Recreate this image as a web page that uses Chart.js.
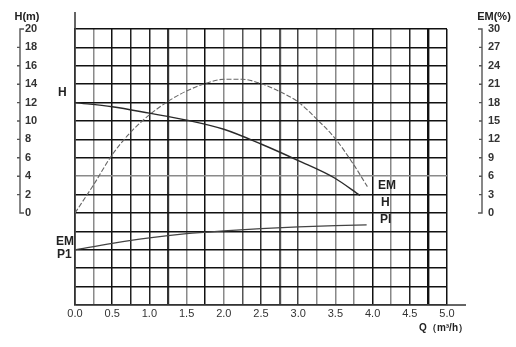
<!DOCTYPE html>
<html>
<head>
<meta charset="utf-8">
<script src="https://cdn.jsdelivr.net/npm/chart.js@4"></script>
<style>
  html, body { margin: 0; padding: 0; background: #fff; }
  canvas { display: block; }
</style>
</head>
<body>
<canvas id="chart" width="516" height="347"></canvas>
<script>
// head curve H (m) vs flow Q (m3/h)
const qHead = [0, 0.5, 1.0, 1.5, 2.0, 2.5, 3.0, 3.5, 3.83];
const headValues = [12, 11.55, 10.85, 10.1, 9.1, 7.5, 5.7, 3.75, 1.9];

// efficiency EM (%)
const qEff = [0, 0.25, 0.5, 0.75, 1.0, 1.25, 1.5, 1.75, 2.0, 2.25, 2.5, 2.75, 3.0, 3.25, 3.5, 3.75, 3.93];
const effValues = [0, 4.6, 9.5, 13.2, 16.0, 18.2, 19.9, 21.1, 21.8, 21.8, 21.1, 19.8, 18.1, 15.3, 12.1, 7.8, 4.3];

// power P1 (no scale printed, hidden axis)
const qPower = [0, 0.5, 1.0, 1.5, 2.0, 2.5, 3.0, 3.5, 3.92];
const powerValues = [60, 67, 73, 77.5, 80.5, 83, 85, 86.3, 87];

const xTickLabels = ["0.0", "0.5", "1.0", "1.5", "2.0", "2.5", "3.0", "3.5", "4.0", "4.5", "5.0"];

const FONT = "'Liberation Sans', Arial, sans-serif";

const toPoints = (xs, ys) => xs.map((x, i) => ({ x: x, y: ys[i] }));

// scanned grid: some lines print grey, some heavier
const xLineShade = ["#111", "#8a8a8a", "#111", "#222", "#222", "#333", "#8a8a8a", "#111", "#8a8a8a", "#555",
  "#333", "#555", "#444", "#8a8a8a", "#888", "#888", "#111", "#888", "#222", "#111", "#111"];
const xLineWidth = [1.5, 1.5, 1.5, 1.5, 1.5, 2.2, 1.5, 1.5, 1.5, 1.5, 1.5, 2.2, 1.5, 1.5, 1.5, 1.5, 1.5, 1.5, 1.5, 2.4, 1.5];

const decorations = {
  id: "decorations",
  afterDraw(chart) {
    const { ctx, chartArea, scales } = chart;
    const yH = scales.y, yE = scales.y2;
    ctx.save();

    // axis line extensions
    ctx.strokeStyle = "#333";
    ctx.lineWidth = 1.5;
    ctx.beginPath();
    ctx.moveTo(chartArea.left, chartArea.top);
    ctx.lineTo(chartArea.left, 12);
    ctx.moveTo(chartArea.right, chartArea.bottom);
    ctx.lineTo(466, chartArea.bottom);
    ctx.stroke();

    // left bracket for H(m)
    const top = yH.getPixelForValue(20), zero = yH.getPixelForValue(0);
    ctx.strokeStyle = "#555";
    ctx.lineWidth = 1.4;
    ctx.beginPath();
    ctx.moveTo(24, top); ctx.lineTo(20, top); ctx.lineTo(20, zero); ctx.lineTo(24, zero);
    for (let v = 2; v < 20; v += 2) {
      const py = yH.getPixelForValue(v);
      ctx.moveTo(17, py); ctx.lineTo(20, py);
    }
    // right bracket for EM(%)
    const rTop = yE.getPixelForValue(30), rZero = yE.getPixelForValue(0);
    ctx.moveTo(478, rTop); ctx.lineTo(482, rTop); ctx.lineTo(482, rZero); ctx.lineTo(478, rZero);
    for (let v = 3; v < 30; v += 3) {
      const py = yE.getPixelForValue(v);
      ctx.moveTo(479, py); ctx.lineTo(482, py);
    }
    ctx.stroke();

    ctx.fillStyle = "#222";
    ctx.font = "bold 11px " + FONT;
    ctx.textBaseline = "middle";
    ctx.textAlign = "center";
    ctx.fillText("H(m)", 27, 17);
    ctx.fillText("EM(%)", 494, 17);

    // curve names
    ctx.font = "bold 12px " + FONT;
    ctx.textAlign = "left";
    ctx.fillText("H", 58, 93);
    ctx.fillText("EM", 56, 242);
    ctx.fillText("P1", 57, 255);
    ctx.fillText("EM", 378, 186);
    ctx.fillText("H", 381, 203);
    ctx.fillText("PI", 380, 220);

    ctx.font = "bold 10px " + FONT;
    ctx.textAlign = "right";
    ctx.fillText("Q（m³/h）", 468, 328);
    ctx.restore();
  }
};

new Chart(document.getElementById("chart").getContext("2d"), {
  type: "line",
  data: {
    datasets: [
      {
        label: "H",
        data: toPoints(qHead, headValues),
        yAxisID: "y",
        borderColor: "#2a2a2a",
        borderWidth: 1.4,
        pointRadius: 0,
        cubicInterpolationMode: "monotone",
        fill: false
      },
      {
        label: "EM",
        data: toPoints(qEff, effValues),
        yAxisID: "y2",
        borderColor: "#666",
        borderWidth: 1.1,
        borderDash: [5, 2],
        pointRadius: 0,
        cubicInterpolationMode: "monotone",
        fill: false
      },
      {
        label: "P1",
        data: toPoints(qPower, powerValues),
        yAxisID: "yP",
        borderColor: "#444",
        borderWidth: 1.3,
        pointRadius: 0,
        cubicInterpolationMode: "monotone",
        fill: false
      }
    ]
  },
  options: {
    responsive: false,
    animation: false,
    layout: { padding: { top: 29, left: 25, right: 0, bottom: 0 } },
    plugins: {
      legend: { display: false },
      tooltip: { enabled: false }
    },
    scales: {
      x: {
        type: "linear",
        min: 0,
        max: 5,
        afterFit: (s) => { s.height = 42; },
        grid: {
          drawTicks: false,
          color: (c) => xLineShade[c.index] || "#111",
          lineWidth: (c) => xLineWidth[c.index] || 1.5
        },
        border: { color: "#333", width: 1.6 },
        ticks: {
          stepSize: 0.25,
          autoSkip: false,
          maxRotation: 0,
          padding: 2,
          color: "#333",
          font: { family: FONT, size: 11 },
          callback: (v) => {
            const i = Math.round(v * 2);
            return Math.abs(v * 2 - i) < 1e-6 ? xTickLabels[i] : "";
          }
        }
      },
      y: {
        position: "left",
        min: -10,
        max: 20,
        afterFit: (s) => { s.width = 50; },
        grid: {
          drawTicks: false,
          color: (c) => (c.tick.value === 4 ? "#8a8a8a" : "#111"),
          lineWidth: 1.5
        },
        border: { color: "#333", width: 1.6 },
        ticks: {
          stepSize: 2,
          crossAlign: "far",
          color: "#333",
          font: { family: FONT, size: 11, weight: "bold" },
          callback: (v) => (v >= 0 ? v : "")
        }
      },
      y2: {
        position: "right",
        min: -15,
        max: 30,
        afterFit: (s) => { s.width = 69; },
        grid: {
          display: true,
          drawOnChartArea: false,
          drawTicks: true,
          tickLength: 41,
          color: "rgba(0,0,0,0)"
        },
        border: { display: false },
        ticks: {
          stepSize: 3,
          padding: 0,
          crossAlign: "near",
          color: "#333",
          font: { family: FONT, size: 11, weight: "bold" },
          callback: (v) => (v >= 0 ? v : "")
        }
      },
      yP: {
        display: false,
        min: 0,
        max: 300
      }
    }
  },
  plugins: [decorations]
});
</script>
</body>
</html>
